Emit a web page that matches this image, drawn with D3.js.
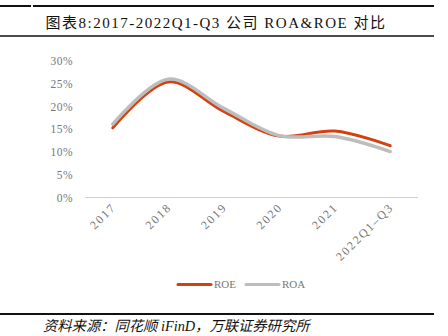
<!DOCTYPE html>
<html>
<head>
<meta charset="utf-8">
<script src="https://cdn.jsdelivr.net/npm/d3@7"></script>
<style>
  html, body { margin: 0; padding: 0; background: #fff; }
  svg { display: block; }
</style>
</head>
<body>
<svg id="chart" width="448" height="336"></svg>
<script>
// Periods on the x axis
const categories = ["2017", "2018", "2019", "2020", "2021", "2022Q1–Q3"];
// Return on equity and return on assets, in percent
const roeValues = [15.3, 25.4, 18.9, 13.5, 14.6, 11.4];
const roaValues = [16.1, 26.0, 19.6, 13.6, 13.4, 10.1];
// Y axis ticks, in percent
const yTicks = [0, 5, 10, 15, 20, 25, 30];

const titleText = "图表8:2017-2022Q1-Q3 公司 ROA&ROE 对比";
const sourceText = "资料来源：同花顺 iFinD，万联证券研究所";

const svg = d3.select("#chart");
const serif = "'Liberation Serif', 'DejaVu Serif', 'Noto Sans CJK SC', serif";

// Header rules and title
svg.append("line").attr("x1", 0).attr("x2", 31).attr("y1", 6).attr("y2", 6)
  .attr("stroke", "#111").attr("stroke-width", 2);
svg.append("line").attr("x1", 33).attr("x2", 434).attr("y1", 6).attr("y2", 6)
  .attr("stroke", "#111").attr("stroke-width", 2);
svg.append("text").attr("x", 216).attr("y", 28)
  .attr("text-anchor", "middle")
  .attr("font-family", serif).attr("font-size", 15).attr("fill", "#111")
  .attr("letter-spacing", 1.5)
  .text(titleText);
svg.append("line").attr("x1", 0).attr("x2", 434).attr("y1", 36).attr("y2", 36)
  .attr("stroke", "#111").attr("stroke-width", 1.5);

// Scales
const x = d3.scalePoint().domain(categories).range([85, 418]).padding(0.5);
const y = d3.scaleLinear().domain([0, 30]).range([197.5, 61]);

// Y axis labels
svg.append("g").selectAll("text").data(yTicks).join("text")
  .attr("x", 73).attr("y", d => y(d)).attr("dy", "0.35em")
  .attr("text-anchor", "end")
  .attr("font-family", serif).attr("font-size", 11.5).attr("fill", "#777")
  .attr("letter-spacing", 0.5)
  .text(d => d + "%");

// Baseline
svg.append("line").attr("x1", 85).attr("x2", 418)
  .attr("y1", y(0)).attr("y2", y(0))
  .attr("stroke", "#d0d0d0").attr("stroke-width", 1);

// X labels, rotated
svg.append("g").selectAll("text").data(categories).join("text")
  .attr("transform", d => `translate(${x(d) + 4},${208}) rotate(-45)`)
  .attr("text-anchor", "end")
  .attr("font-family", serif).attr("font-size", 12).attr("fill", "#777")
  .attr("letter-spacing", 1.8)
  .text(d => d);

// Series lines
const line = d3.line()
  .x((d, i) => x(categories[i]))
  .y(d => y(d))
  .curve(d3.curveCatmullRom.alpha(0.5));

svg.append("path").datum(roeValues).attr("d", line)
  .attr("fill", "none").attr("stroke", "#D44010").attr("stroke-width", 3)
  .attr("stroke-linecap", "round");
svg.append("path").datum(roaValues).attr("d", line)
  .attr("fill", "none").attr("stroke", "#BDBDBD").attr("stroke-width", 3.5)
  .attr("stroke-linecap", "round");

// Legend
const legend = [
  { name: "ROE", color: "#D44010", x: 178 },
  { name: "ROA", color: "#BDBDBD", x: 246 }
];
const lg = svg.append("g").selectAll("g").data(legend).join("g");
lg.append("line").attr("x1", d => d.x).attr("x2", d => d.x + 33)
  .attr("y1", 284.5).attr("y2", 284.5)
  .attr("stroke", d => d.color).attr("stroke-width", 3).attr("stroke-linecap", "round");
lg.append("text").attr("x", d => d.x + 36).attr("y", 284.5).attr("dy", "0.35em")
  .attr("font-family", serif).attr("font-size", 11).attr("fill", "#777")
  .text(d => d.name);

// Footer rule and source
svg.append("line").attr("x1", 0).attr("x2", 434).attr("y1", 314).attr("y2", 314)
  .attr("stroke", "#111").attr("stroke-width", 2);
svg.append("text").attr("x", 43).attr("y", 331)
  .attr("font-family", serif).attr("font-style", "italic")
  .attr("font-size", 14.3).attr("fill", "#111")
  .text(sourceText);
</script>
</body>
</html>
